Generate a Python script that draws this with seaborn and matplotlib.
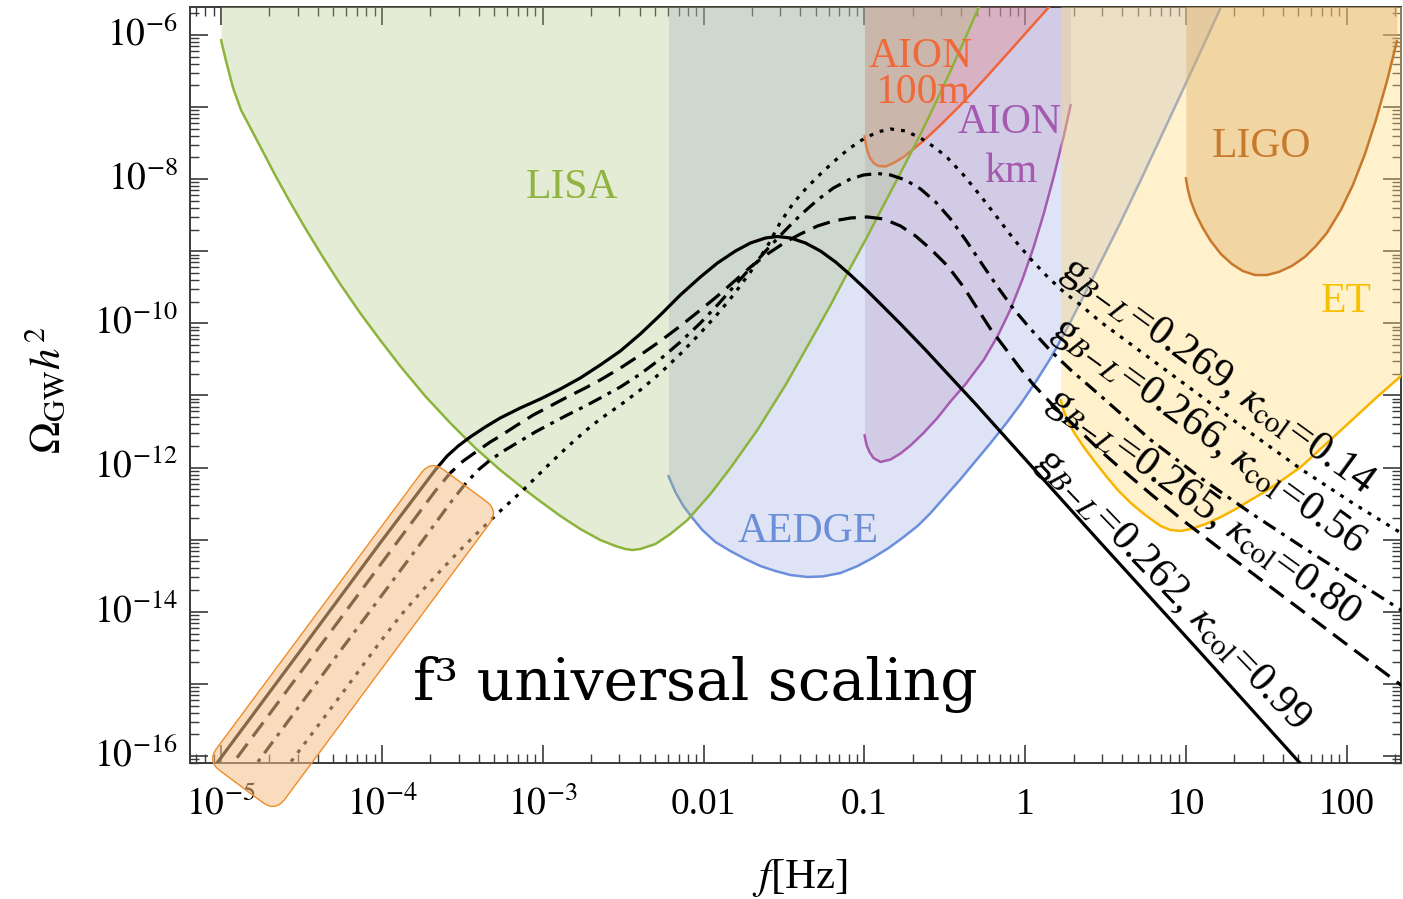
import numpy as np
import matplotlib
matplotlib.use("Agg")
import matplotlib.pyplot as plt
import seaborn as sns
from matplotlib.patches import FancyBboxPatch
from matplotlib.transforms import Affine2D
from matplotlib.ticker import FixedLocator, FixedFormatter, NullFormatter

# ---------------- data (log10 f [Hz], log10 Omega h^2) ----------------
lisa_lf = [-5.000, -4.969, -4.925, -4.876, -4.820, -4.745, -4.664, -4.571, -4.477, -4.371,
           -4.259, -4.135, -4.011, -3.886, -3.731, -3.575, -3.419, -3.264, -3.108, -3.034,
           -2.890, -2.766, -2.642, -2.548, -2.486, -2.442, -2.393, -2.299, -2.206, -2.100,
           -1.957, -1.833, -1.665, -1.490, -1.335, -1.210, -1.105, -0.993, -0.899, -0.775,
           -0.650, -0.557, -0.464, -0.358, -0.258]
lisa_lo = [-6.069, -6.361, -6.735, -7.040, -7.276, -7.595, -7.942, -8.316, -8.677, -9.065,
           -9.454, -9.856, -10.230, -10.591, -11.007, -11.381, -11.728, -12.033, -12.311, -12.436,
           -12.671, -12.852, -13.004, -13.087, -13.129, -13.143, -13.129, -13.060, -12.921, -12.727,
           -12.366, -12.006, -11.479, -10.854, -10.244, -9.745, -9.301, -8.843, -8.441, -7.914,
           -7.373, -6.943, -6.499, -5.972, -5.459]

aedge_lf = [-2.218, -2.175, -2.125, -2.069, -2.007, -1.926, -1.833, -1.739, -1.646, -1.553,
            -1.459, -1.353, -1.260, -1.148, -1.042, -0.949, -0.849, -0.756, -0.669, -0.588,
            -0.495, -0.401, -0.308, -0.215, -0.121, -0.028, 0.065, 0.159, 0.252, 0.345,
            0.439, 0.576, 0.719, 0.905, 1.061, 1.229, 1.291]
aedge_lo = [-12.117, -12.339, -12.533, -12.699, -12.866, -13.032, -13.157, -13.268, -13.365, -13.434,
            -13.490, -13.517, -13.510, -13.462, -13.365, -13.254, -13.115, -12.963, -12.810, -12.630,
            -12.394, -12.158, -11.908, -11.659, -11.395, -11.118, -10.813, -10.480, -10.105, -9.703,
            -9.287, -8.677, -8.011, -7.123, -6.374, -5.556, -5.251]

aion100_lf = [-0.999, -0.986, -0.968, -0.943, -0.912, -0.868, -0.818, -0.756, -0.694, -0.619,
              -0.526, -0.401, -0.246, -0.090, 0.065, 0.221]
aion100_lo = [-7.401, -7.567, -7.692, -7.775, -7.817, -7.824, -7.775, -7.692, -7.581, -7.442,
              -7.248, -6.971, -6.596, -6.208, -5.820, -5.431]

aionkm_lf = [-0.999, -0.986, -0.968, -0.943, -0.899, -0.837, -0.775, -0.713, -0.632, -0.544,
             -0.464, -0.370, -0.258, -0.171, -0.090, -0.016, 0.053, 0.115, 0.177, 0.240, 0.283]
aionkm_lo = [-11.548, -11.687, -11.784, -11.867, -11.922, -11.888, -11.804, -11.693, -11.520, -11.307,
             -11.082, -10.840, -10.508, -10.175, -9.800, -9.384, -8.940, -8.483, -7.969, -7.401, -6.971]

et_lf = [0.221, 0.240, 0.265, 0.302, 0.364, 0.439, 0.513, 0.576, 0.657, 0.731,
         0.781, 0.843, 0.905, 0.968, 1.030, 1.123, 1.217, 1.310, 1.403, 1.497,
         1.590, 1.714, 1.870, 2.026, 2.181, 2.337, 2.411]
et_lo = [-11.062, -11.215, -11.354, -11.506, -11.714, -11.936, -12.144, -12.311, -12.491, -12.630,
         -12.713, -12.810, -12.866, -12.879, -12.852, -12.782, -12.685, -12.574, -12.449, -12.325,
         -12.186, -11.992, -11.673, -11.354, -11.035, -10.730, -10.577]

ligo_lf = [0.999, 1.011, 1.030, 1.061, 1.105, 1.154, 1.217, 1.285, 1.353, 1.428,
           1.503, 1.577, 1.658, 1.739, 1.808, 1.876, 1.963, 2.038, 2.113, 2.181, 2.250, 2.312]
ligo_lo = [-7.983, -8.136, -8.302, -8.483, -8.677, -8.857, -9.037, -9.176, -9.273, -9.329,
           -9.329, -9.287, -9.204, -9.079, -8.926, -8.746, -8.427, -8.080, -7.650, -7.179, -6.638, -6.083]

# GW spectra
solid_lf = [-5.100, -5.025, -4.508, -4.011, -3.762, -3.668, -3.594, -3.525, -3.451, -3.357,
            -3.264, -3.139, -3.015, -2.890, -2.766, -2.642, -2.517, -2.393, -2.268, -2.144,
            -2.019, -1.913, -1.801, -1.708, -1.615, -1.540, -1.459, -1.366, -1.273, -1.179,
            -1.086, -0.993, -0.899, -0.775, -0.619, -0.464, -0.308, -0.152, 0.470, 1.092,
            1.714, 1.839]
solid_lo = [-16.319, -16.097, -14.544, -13.046, -12.311, -12.033, -11.839, -11.700, -11.576, -11.437,
            -11.312, -11.173, -11.049, -10.910, -10.757, -10.577, -10.383, -10.147, -9.883, -9.606,
            -9.356, -9.162, -8.996, -8.885, -8.816, -8.795, -8.816, -8.885, -8.996, -9.148,
            -9.329, -9.523, -9.731, -10.008, -10.369, -10.743, -11.118, -11.506, -13.046, -14.571,
            -16.111, -16.416]

dash_lf = [-5.000, -4.925, -4.384, -3.886, -3.668, -3.575, -3.494, -3.407, -3.326, -3.264,
           -3.158, -3.059, -2.953, -2.847, -2.735, -2.642, -2.517, -2.393, -2.268, -2.144,
           -2.019, -1.913, -1.814, -1.708, -1.602, -1.490, -1.397, -1.291, -1.192, -1.086,
           -0.980, -0.880, -0.775, -0.681, -0.588, -0.482, -0.383, -0.296, -0.215, -0.121,
           -0.028, 0.053, 0.159, 0.314, 0.470, 0.576, 0.781, 0.986, 1.279, 1.609,
           1.963, 2.337, 2.461]
dash_lo = [-16.319, -16.097, -14.474, -12.977, -12.325, -12.075, -11.908, -11.770, -11.645, -11.562,
           -11.409, -11.271, -11.146, -11.021, -10.896, -10.785, -10.619, -10.438, -10.244, -10.036,
           -9.814, -9.620, -9.426, -9.218, -9.037, -8.871, -8.760, -8.649, -8.580, -8.538,
           -8.524, -8.552, -8.649, -8.788, -8.968, -9.204, -9.495, -9.800, -10.078, -10.355,
           -10.632, -10.854, -11.104, -11.437, -11.770, -11.978, -12.366, -12.741, -13.240, -13.795,
           -14.391, -15.015, -15.223]

dashdot_lf = [-4.851, -4.776, -4.259, -3.762, -3.575, -3.482, -3.401, -3.326, -3.233, -3.139,
              -3.046, -2.953, -2.847, -2.735, -2.642, -2.517, -2.393, -2.268, -2.144, -2.019,
              -1.913, -1.814, -1.708, -1.602, -1.490, -1.397, -1.291, -1.192, -1.086, -1.005,
              -0.918, -0.837, -0.744, -0.650, -0.557, -0.464, -0.370, -0.277, -0.171, -0.072,
              0.034, 0.159, 0.283, 0.470, 0.781, 1.092, 1.403, 1.714, 2.026, 2.337, 2.461]
dashdot_lo = [-16.319, -16.097, -14.544, -13.060, -12.491, -12.228, -12.033, -11.895, -11.756, -11.631,
              -11.506, -11.395, -11.271, -11.146, -11.035, -10.882, -10.702, -10.494, -10.258, -9.994,
              -9.745, -9.495, -9.232, -8.968, -8.705, -8.497, -8.288, -8.122, -7.997, -7.942,
              -7.921, -7.942, -8.011, -8.136, -8.316, -8.552, -8.843, -9.148, -9.495, -9.800,
              -10.078, -10.383, -10.646, -11.007, -11.617, -12.144, -12.630, -13.087, -13.531, -13.975, -14.155]

dot_lf = [-4.645, -4.571, -4.259, -4.011, -3.886, -3.762, -3.637, -3.513, -3.388, -3.264,
          -3.121, -2.984, -2.847, -2.735, -2.642, -2.517, -2.393, -2.268, -2.144, -2.019,
          -1.913, -1.814, -1.708, -1.602, -1.521, -1.441, -1.360, -1.273, -1.192, -1.098,
          -1.005, -0.918, -0.837, -0.744, -0.650, -0.557, -0.482, -0.383, -0.277, -0.171,
          -0.072, 0.034, 0.140, 0.240, 0.345, 0.470, 0.781, 1.092, 1.403, 1.714,
          2.026, 2.337, 2.461]
dot_lo = [-16.319, -16.097, -15.168, -14.419, -14.058, -13.739, -13.434, -13.143, -12.866, -12.602,
          -12.311, -12.006, -11.714, -11.492, -11.326, -11.132, -10.924, -10.688, -10.424, -10.133,
          -9.870, -9.606, -9.287, -8.926, -8.594, -8.330, -8.122, -7.928, -7.761, -7.581,
          -7.442, -7.345, -7.304, -7.331, -7.429, -7.567, -7.706, -7.942, -8.233, -8.538,
          -8.829, -9.107, -9.356, -9.564, -9.745, -9.981, -10.494, -11.007, -11.520, -12.019,
          -12.477, -12.907, -13.115]

curve_labels = [r"g$_{B\!-\!L}$=0.262, $\kappa_{\rm col}$=0.99",
                r"g$_{B\!-\!L}$=0.265, $\kappa_{\rm col}$=0.80",
                r"g$_{B\!-\!L}$=0.266, $\kappa_{\rm col}$=0.56",
                r"g$_{B\!-\!L}$=0.269, $\kappa_{\rm col}$=0.14"]
label_lf = [0.912, 1.105, 1.136, 1.197]
label_lo = [-13.697, -12.547, -11.562, -10.729]
label_rot = [-46, -36, -36, -36]

xtick_exp = [-5, -4, -3, -2, -1, 0, 1, 2]
xtick_labels = [r"$10^{-5}$", r"$10^{-4}$", r"$10^{-3}$", "0.01", "0.1", "1", "10", "100"]
ytick_exp = list(range(-16, -5))
ytick_labels = [r"$10^{%d}$" % e if e % 2 == 0 else "" for e in ytick_exp]

xlim_log = (-5.193, 2.337)
ylim_log = (-16.097, -5.612)

# ---------------- style ----------------
sns.set_theme(style="ticks")
plt.rcParams["font.family"] = ["Liberation Serif", "DejaVu Serif"]
plt.rcParams["mathtext.fontset"] = "stix"

fig = plt.figure(figsize=(14.03, 8.99), dpi=100)
ax = fig.add_axes([190 / 1403, 136 / 899, 1211 / 1403, 756 / 899])
ax.set_xscale("log")
ax.set_yscale("log")
ax.set_xlim(10 ** xlim_log[0], 10 ** xlim_log[1])
ax.set_ylim(10 ** ylim_log[0], 10 ** ylim_log[1])

regions = [
    (aedge_lf, aedge_lo, "#94a5e1", 0.30, "#6b8fdc"),
    (aionkm_lf, aionkm_lo, "#b794c1", 0.30, "#a65bb0"),
    (aion100_lf, aion100_lo, "#e77971", 0.30, "#f0643a"),
    (lisa_lf, lisa_lo, "#aec278", 0.31, "#8cb43c"),
    (et_lf, et_lo, "#ffdc80", 0.40, "#f7b500"),
    (ligo_lf, ligo_lo, "#deab65", 0.40, "#c8782a"),
]
for i, (lf, lo, fc, a, lc) in enumerate(regions):
    f = 10 ** np.asarray(lf)
    om = 10 ** np.asarray(lo)
    ax.fill_between(f, om, 1e-2, color=fc, alpha=a, lw=0, zorder=1 + i)
    sns.lineplot(x=f, y=om, color=lc, lw=1.8, sort=False, estimator=None, ax=ax, zorder=1.5 + i)
    ax.lines[-1].set_solid_joinstyle("round")

curves = [
    (solid_lf, solid_lo, "-"),
    (dash_lf, dash_lo, (0, (5.5, 2.8))),
    (dashdot_lf, dashdot_lo, (0, (4.5, 2.2, 1.2, 2.2))),
    (dot_lf, dot_lo, (0, (1.2, 2.2))),
]
for lf, lo, ls in curves:
    sns.lineplot(x=10 ** np.asarray(lf), y=10 ** np.asarray(lo), color="black", lw=2.3,
                 sort=False, estimator=None, ax=ax, zorder=10)
    ln = ax.lines[-1]
    ln.set_linestyle(ls)
    ln.set_solid_joinstyle("round")
    ln.set_dash_joinstyle("round")

for txt, lf, lo, rot in zip(curve_labels, label_lf, label_lo, label_rot):
    ax.text(10 ** lf, 10 ** lo, txt, rotation=rot, rotation_mode="anchor", ha="center",
            va="center", fontsize=30.5, color="black", zorder=12)

# detector names
det_texts = [
    ("LISA", -2.816, -8.261, "#8fb440"),
    ("AEDGE", -1.347, -13.032, "#6a8ed8"),
    ("AION", -0.650, -6.444, "#f0693a"),
    ("100m", -0.638, -6.943, "#f0693a"),
    ("AION", -0.096, -7.359, "#a45aae"),
    ("km", -0.090, -8.039, "#a45aae"),
    ("LIGO", 1.472, -7.692, "#c87a2c"),
    ("ET", 1.994, -9.842, "#f9c002"),
]
for txt, lf, lo, c in det_texts:
    ax.text(10 ** lf, 10 ** lo, txt, ha="center", va="baseline", fontsize=30, color=c, zorder=11)

ax.text(10 ** -2.050, 10 ** -15.223, "f\u00b3 universal scaling", ha="center", va="baseline",
        fontsize=42, family="DejaVu Serif", color="black", zorder=12)

# ticks
ax.xaxis.set_major_locator(FixedLocator(10.0 ** np.array(xtick_exp)))
ax.xaxis.set_major_formatter(FixedFormatter(xtick_labels))
ax.xaxis.set_minor_locator(FixedLocator([m * 10.0 ** e for e in range(-6, 3) for m in range(2, 10)]))
ax.xaxis.set_minor_formatter(NullFormatter())
ax.yaxis.set_major_locator(FixedLocator(10.0 ** np.array(ytick_exp)))
ax.yaxis.set_major_formatter(FixedFormatter(ytick_labels))
ax.yaxis.set_minor_locator(FixedLocator([m * 10.0 ** e for e in range(-17, -4) for m in range(2, 10)]))
ax.yaxis.set_minor_formatter(NullFormatter())

ax.tick_params(axis="both", which="both", direction="in", top=True, right=True, color="#3a3a3a")
ax.tick_params(axis="both", which="major", length=13, width=1.2, labelsize=27, labelcolor="black")
ax.tick_params(axis="both", which="minor", length=6.5, width=1.0)
ax.tick_params(axis="x", which="major", pad=37)
ax.tick_params(axis="y", which="major", pad=9)
for lab in ax.get_xticklabels():
    lab.set_va("baseline")
for lab in ax.get_yticklabels():
    lab.set_va("center")
for s in ax.spines.values():
    s.set_color("#3a3a3a")
    s.set_linewidth(1.4)

ax.set_xlabel(r"$f$[Hz]", fontsize=31, color="black")
ax.set_ylabel(r"$\Omega_{\rm GW}h^2$", fontsize=31, color="black")
ax.xaxis.set_label_coords(0.504, -0.124)
ax.yaxis.set_label_coords(-0.100, 0.4934)

# rounded highlight box over the f^3 region
box_lf, box_lo = -4.179, -14.336
cx, cy = ax.transData.transform((10 ** box_lf, 10 ** box_lo))
L, W = 375, 85
box = FancyBboxPatch((cx - L / 2, cy - W / 2), L, W,
                     boxstyle="round,pad=0,rounding_size=16",
                     transform=Affine2D().rotate_deg_around(cx, cy, 53.4),
                     facecolor="#f5be87", alpha=0.55, edgecolor="none", zorder=20)
fig.add_artist(box)
edge = FancyBboxPatch((cx - L / 2, cy - W / 2), L, W,
                      boxstyle="round,pad=0,rounding_size=16",
                      transform=Affine2D().rotate_deg_around(cx, cy, 53.4),
                      facecolor="none", edgecolor="#f08c28", lw=1.0, zorder=21)
fig.add_artist(edge)

fig.savefig("out.png", dpi=100)
